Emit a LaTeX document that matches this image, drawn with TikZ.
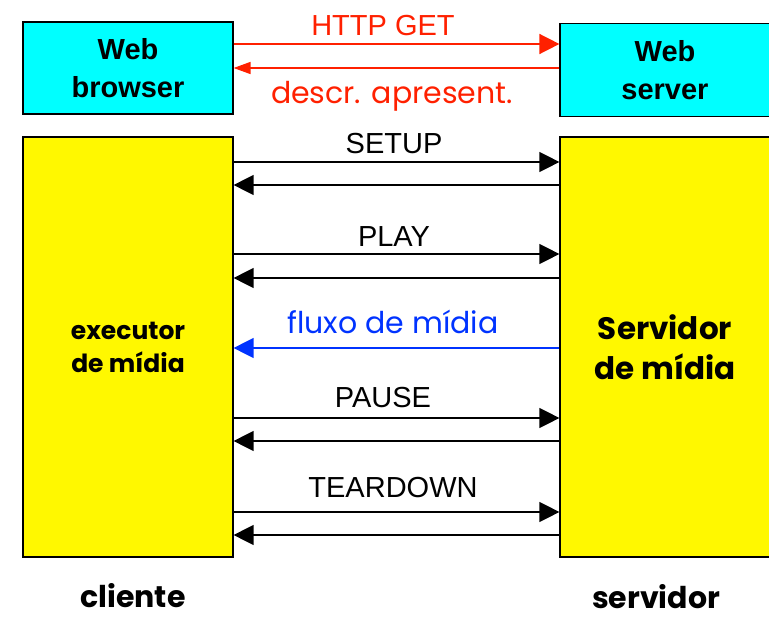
\documentclass[tikz,border=0pt]{standalone}
\usepackage{fontspec}
\setmainfont{Liberation Sans}
\newfontfamily\comicfont{Poppins}
\usetikzlibrary{arrows.meta}

\definecolor{boxcyan}{RGB}{0,255,255}
\definecolor{boxyellow}{RGB}{255,248,0}
\definecolor{getred}{RGB}{255,32,0}
\definecolor{flowblue}{RGB}{0,51,255}

\begin{document}
\begin{tikzpicture}[x=1pt, y=-1pt,
    box/.style={draw, line width=1.2pt, minimum width=210pt, inner sep=0pt, align=center},
    msg/.style={line width=1.3pt, -{Triangle[length=20pt,width=20pt]}},
    msgtext/.style={anchor=base, inner sep=0pt, font=\fontsize{29}{34}\selectfont},
    comictext/.style={anchor=base, inner sep=0pt, font=\fontsize{30}{34}\selectfont\comicfont}]
    \useasboundingbox (0,0) rectangle (769,618);
    % web part
    \node [box, fill=boxcyan, minimum height=92pt, font=\fontsize{29}{38}\selectfont\bfseries] (browser) at (128,68) {Web\\browser};
    \node [box, fill=boxcyan, minimum height=93pt, font=\fontsize{29}{38}\selectfont\bfseries] (webserver) at (665,70) {Web\\server};
    \node [msgtext, getred] (httpget) at (383,36) {HTTP GET};
    \node [comictext, getred] (descr) at (392,103) {descr. apresent.};
    \draw [msg, getred, line width=1.5pt] (browser.east |- 0,44) -- (webserver.west |- 0,44);
    \draw [getred, line width=1.5pt, -{Triangle[length=17pt,width=12pt]}] (webserver.west |- 0,68) -- (browser.east |- 0,68);
    % media part
    \node [box, fill=boxyellow, minimum height=420pt, font=\fontsize{25}{33}\selectfont\comicfont\bfseries] (player) at (128,347) {executor\\de m\'idia};
    \node [box, fill=boxyellow, minimum height=420pt, font=\fontsize{31}{40}\selectfont\comicfont\bfseries] (mediaserver) at (665,347) {Servidor\\de m\'idia};
    \node [msgtext] (setup) at (394,153) {SETUP};
    \draw [msg] (player.east |- 0,162) -- (mediaserver.west |- 0,162);
    \draw [msg] (mediaserver.west |- 0,185) -- (player.east |- 0,185);
    \node [msgtext] (play) at (394,246) {PLAY};
    \draw [msg] (player.east |- 0,254) -- (mediaserver.west |- 0,254);
    \draw [msg] (mediaserver.west |- 0,278) -- (player.east |- 0,278);
    \node [comictext, flowblue] (flow) at (393,333) {fluxo de m\'idia};
    \draw [msg, flowblue] (mediaserver.west |- 0,348) -- (player.east |- 0,348);
    \node [msgtext] (pause) at (383,407) {PAUSE};
    \draw [msg] (player.east |- 0,418) -- (mediaserver.west |- 0,418);
    \draw [msg] (mediaserver.west |- 0,441) -- (player.east |- 0,441);
    \node [msgtext] (teardown) at (393,497) {TEARDOWN};
    \draw [msg] (player.east |- 0,512) -- (mediaserver.west |- 0,512);
    \draw [msg] (mediaserver.west |- 0,535) -- (player.east |- 0,535);
    % sides
    \node [comictext, font=\fontsize{30}{34}\selectfont\comicfont\bfseries] (client) at (133,607) {cliente};
    \node [comictext, font=\fontsize{30}{34}\selectfont\comicfont\bfseries] (server) at (656,608) {servidor};
\end{tikzpicture}
\end{document}
